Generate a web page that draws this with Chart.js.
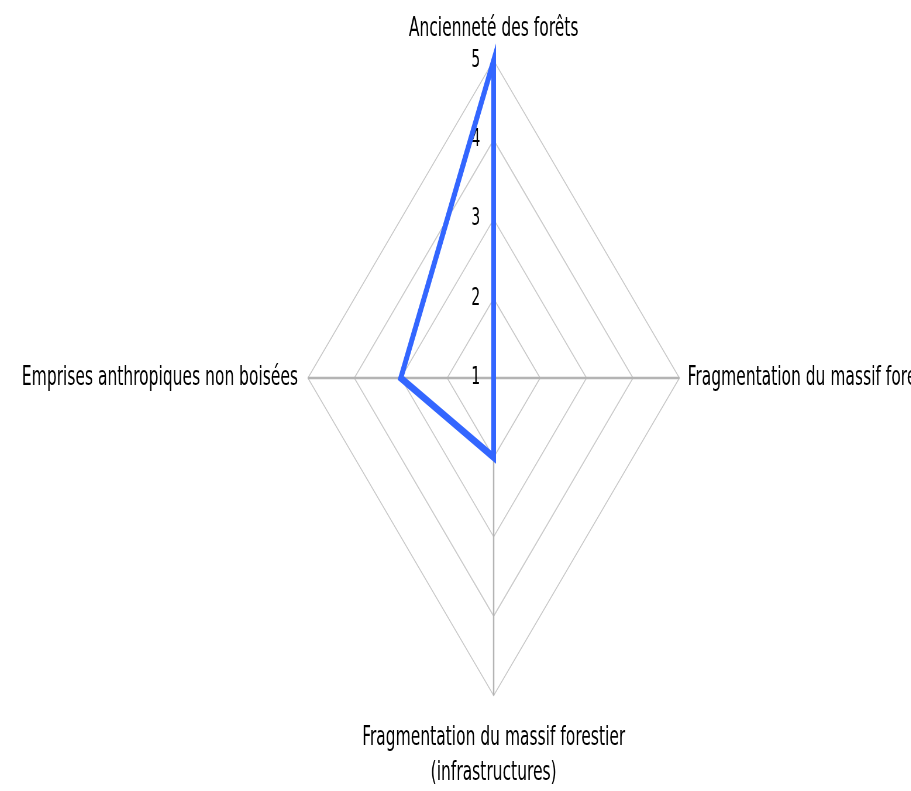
<!DOCTYPE html>
<html>
<head>
<meta charset="utf-8">
<script src="https://cdn.jsdelivr.net/npm/chart.js@4/dist/chart.umd.min.js"></script>
<style>
  html, body { margin: 0; padding: 0; overflow: hidden; background: #fff; width: 911px; height: 791px; }
  /* the reference picture is squeezed horizontally, so the whole canvas is too;
     it is also wider than the window because the right label runs off the edge */
  #wrap { position: absolute; left: -58.5px; top: -11px; transform: scaleX(0.585); transform-origin: 0 0; }
</style>
</head>
<body>
<div id="wrap"><canvas id="radar" width="1886" height="826"></canvas></div>
<script>
const axisLabels = [
    'Ancienneté des forêts',
    'Fragmentation du massif forestier',
    ['Fragmentation du massif forestier', '(infrastructures)'],
    'Emprises anthropiques non boisées',
];
const scores = [5, 1, 2, 3];
const scaleMin = 1;
const scaleMax = 5;

// radar scale skips the first tick label when min >= 0, the reference shows it
const centerTick = {
    id: 'centerTick',
    afterDraw(chart) {
        const r = chart.scales.r;
        const tick = r.ticks[0];
        const pos = r.getPointPositionForValue(0, tick.value);
        const ctx = chart.ctx;
        ctx.save();
        ctx.font = Chart.helpers.toFont(r.options.ticks.font).string;
        ctx.fillStyle = r.options.ticks.color;
        ctx.textAlign = 'center';
        ctx.textBaseline = 'middle';
        ctx.fillText(tick.label, pos.x, pos.y);
        ctx.restore();
    },
};

new Chart(document.getElementById('radar'), {
    type: 'radar',
    data: {
        labels: axisLabels,
        datasets: [{
            data: scores,
            borderColor: '#3366ff',
            borderWidth: 8,
            pointRadius: 0,
            pointHoverRadius: 0,
            fill: false,
            tension: 0,
        }],
    },
    options: {
        responsive: false,
        animation: false,
        devicePixelRatio: 1,
        layout: { padding: 0 },
        plugins: {
            legend: { display: false },
            tooltip: { enabled: false },
        },
        scales: {
            r: {
                min: scaleMin,
                max: scaleMax,
                ticks: {
                    stepSize: 1,
                    showLabelBackdrop: false,
                    backdropPadding: 0,
                    color: '#000',
                    font: { family: 'DejaVu Sans', size: 24 },
                    callback: v => v + '        ',
                },
                grid: { circular: false, color: '#c8c8c8', lineWidth: 1.5 },
                angleLines: { color: '#b4b4b4', lineWidth: 2.5 },
                pointLabels: {
                    color: '#000',
                    font: { family: 'DejaVu Sans', size: 26.5, lineHeight: 1.33 },
                    padding: ctx => [2, 2, 13, 5][ctx.index],
                },
            },
        },
    },
    plugins: [centerTick],
});
</script>
</body>
</html>
